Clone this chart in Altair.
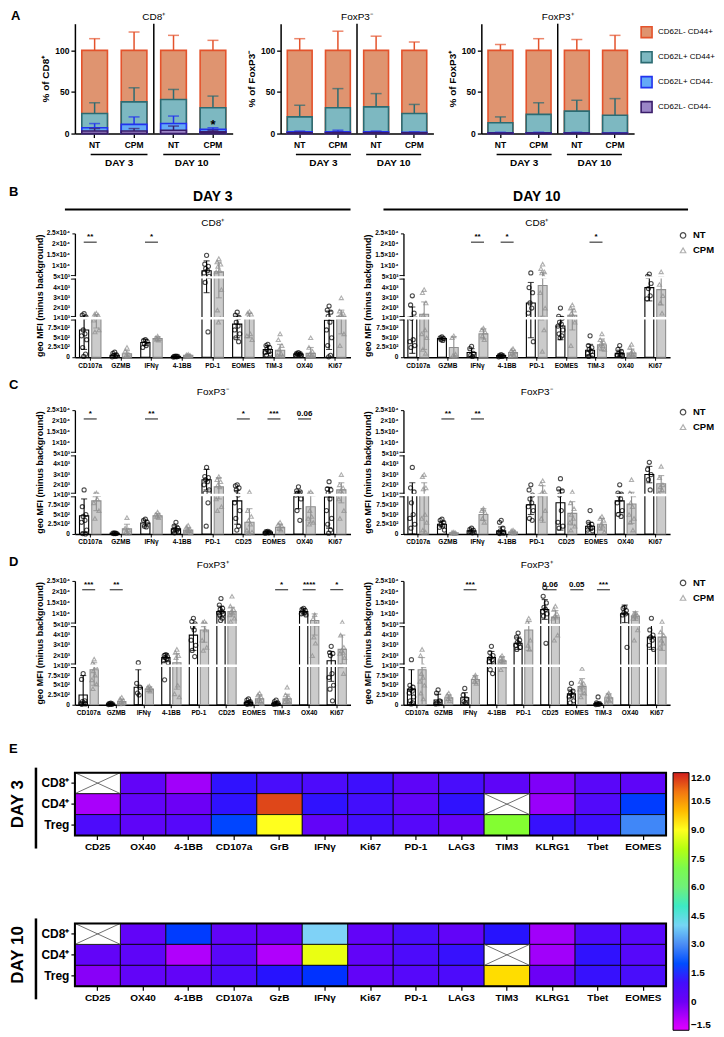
import altair as alt
import pandas as pd

FONT = "Liberation Sans"

# ---------------- Panel A : stacked phenotype bars ----------------
A_GROUPS = ["D3 NT", "D3 CPM", "D10 NT", "D10 CPM"]
A_SERIES = ["CD62L- CD44+", "CD62L+ CD44+", "CD62L+ CD44-", "CD62L- CD44-"]
A_FILL = ["#df9470", "#7db8c1", "#63a9f7", "#9b85c7"]
A_EDGE = ["#e4532c", "#2c6b72", "#2233ee", "#3a1d6a"]
A_YTICKS = [0, 25, 50, 75, 100, 125]

# cumulative top of each segment (rows follow A_SERIES, columns follow A_GROUPS)
A_CD8_TOP = [[100, 100, 100, 100], [24, 38, 41, 31], [7, 11, 12, 5], [3, 3, 4, 2]]
A_CD8_ERR = [[114, 122, 118, 112], [37, 55, 53, 45], [12, 20, 21, 7], [6, 6, 9, 4]]
A_FOXM_TOP = [[100, 100, 100, 100], [20, 31, 32, 24], [2, 2, 2, 1.5], [1, 1, 1, 0.8]]
A_FOXM_ERR = [[114, 123, 117, 110], [34, 54, 48, 35], [3, 4, 3, 2], [1.5, 1.5, 1.5, 1]]
A_FOXP_TOP = [[100, 100, 100, 100], [13, 23, 27, 22], [1, 1, 1, 0.5], [0.5, 0.5, 0.5, 0.3]]
A_FOXP_ERR = [[107, 114, 113, 118], [20, 37, 40, 42], [1.5, 1.5, 1.5, 1], [0.8, 0.8, 0.8, 0.5]]
A_CD8_STAR_GROUP = ["D10 CPM"]
A_CD8_STAR_Y = [15]
A_CD8_STAR_TEXT = ["*"]

# ---------------- Panels B-D : geo MFI ----------------
GROUPS = ["NT", "CPM"]
GROUP_FILL = ["#ffffff", "#cbcbcb"]
GROUP_EDGE = ["#000000", "#8f8f8f"]
Y_DOMAIN = [0, 1000, 5000, 25000]
Y_TICKS = [0, 250, 500, 750, 1000, 2000, 3000, 4000, 5000, 10000, 15000, 20000, 25000]
Y_TICK_LABELS = ["0", "2.5×10²", "5×10²", "7.5×10²", "1×10³", "2×10³", "3×10³", "4×10³",
                 "5×10³", "1×10⁴", "1.5×10⁴", "2×10⁴", "2.5×10⁴"]
Y_BREAK_AT = [1000, 5000]

MK_B = ["CD107a", "GZMB", "IFNγ", "4-1BB", "PD-1", "EOMES", "TIM-3", "OX40", "Ki67"]
MK_C = ["CD107a", "GZMB", "IFNγ", "4-1BB", "PD-1", "CD25", "EOMES", "OX40", "Ki67"]
MK_D = ["CD107a", "GZMB", "IFNγ", "4-1BB", "PD-1", "CD25", "EOMES", "TIM-3", "OX40", "Ki67"]

# B: CD8+ day 3
B3_NT_MEAN = [700, 50, 380, 20, 8000, 850, 200, 80, 950]
B3_NT_SD = [500, 50, 80, 10, 4500, 350, 100, 30, 750]
B3_NT_PTS = [[1450, 1300, 1150, 700, 600, 550, 450, 250, 80, 20], [130, 100, 60, 40, 20, 10],
             [450, 430, 400, 350, 300, 250], [30, 25, 20, 15, 10, 5],
             [15000, 11000, 10000, 9000, 8000, 7000, 5500, 4500, 650],
             [1600, 1300, 1100, 900, 800, 700, 600, 500, 400], [330, 300, 250, 200, 150, 120, 80, 50],
             [120, 100, 90, 80, 70, 60, 50], [2200, 1800, 1600, 1200, 900, 700, 500, 300, 50, 10]]
B3_CPM_MEAN = [1050, 90, 480, 50, 7500, 1000, 180, 100, 1200]
B3_CPM_SD = [300, 80, 50, 20, 4500, 500, 150, 150, 600]
B3_CPM_PTS = [[1500, 1400, 1300, 1200, 1100, 950, 700, 650], [250, 160, 80, 40, 20],
              [540, 500, 480, 460, 440], [70, 60, 50, 40, 30],
              [13500, 12000, 11000, 10000, 8000, 7500, 3800, 1800, 1000, 900],
              [1650, 1500, 1400, 1200, 600, 550, 450], [600, 450, 300, 200, 100, 50, 30],
              [500, 250, 150, 80, 50, 30, 20], [3000, 1700, 1500, 1300, 1200, 1100, 600, 300]]
B3_SIG = [("CD107a", "**"), ("IFNγ", "*")]

# B: CD8+ day 10
B10_NT_MEAN = [1100, 480, 120, 40, 2500, 800, 180, 100, 4000]
B10_NT_SD = [1000, 40, 100, 20, 2000, 350, 150, 80, 1300]
B10_NT_PTS = [[3200, 2300, 1500, 1000, 450, 400, 300, 250], [520, 500, 480, 450, 430],
              [280, 220, 100, 50, 20], [70, 50, 40, 30, 20, 10],
              [7000, 4000, 3500, 2500, 2000, 1500, 400],
              [2000, 1200, 1000, 900, 850, 800, 700, 600, 550, 500],
              [550, 300, 250, 200, 150, 100, 50, 20], [300, 200, 150, 100, 80, 50, 30],
              [6500, 5500, 4400, 3900, 3200, 2900]]
B10_CPM_MEAN = [1400, 250, 600, 120, 4200, 1300, 320, 110, 3800]
B10_CPM_SD = [1200, 280, 130, 60, 3000, 600, 150, 100, 1500]
B10_CPM_PTS = [[3800, 3500, 2500, 1300, 700, 600, 500, 200, 100], [550, 500, 80, 40, 20],
               [750, 700, 650, 550, 450], [220, 180, 140, 100, 60, 40],
               [11000, 9000, 7500, 7000, 5500, 3500, 2000, 1000, 700, 150],
               [2300, 2000, 1800, 1500, 1200, 1100, 900, 300], [600, 450, 400, 350, 300, 250, 200],
               [330, 250, 150, 100, 80, 50, 20], [7500, 4300, 3200, 2500, 1500]]
B10_SIG = [("IFNγ", "**"), ("4-1BB", "*"), ("TIM-3", "*")]

# C: FoxP3- day 3
C3_NT_MEAN = [470, 20, 280, 130, 2500, 850, 50, 1000, 950]
C3_NT_SD = [430, 10, 80, 80, 1000, 600, 20, 350, 800]
C3_NT_PTS = [[1500, 700, 500, 450, 350, 300, 100, 10, 0], [30, 20, 15, 10, 10],
             [380, 350, 300, 200, 180], [300, 200, 150, 120, 100, 80, 50, 30],
             [3700, 2800, 2700, 2500, 2300, 2000, 1500, 1200, 800, 200],
             [2000, 1900, 1700, 1500, 1000, 800, 600, 400, 200, 100], [70, 60, 50, 40, 30, 20],
             [1800, 1400, 1300, 1200, 1100, 1000, 900, 600, 350],
             [2300, 1600, 1500, 1200, 900, 600, 400, 250, 100, 20]]
C3_CPM_MEAN = [850, 130, 470, 100, 1800, 300, 170, 700, 1500]
C3_CPM_SD = [250, 120, 60, 60, 900, 350, 80, 400, 700]
C3_CPM_PTS = [[1200, 1100, 1050, 1000, 900, 800, 600, 400], [420, 150, 100, 60, 20],
              [560, 500, 480, 450, 420], [220, 180, 120, 100, 80, 50, 30],
              [2800, 2500, 2300, 2000, 1800, 900, 700, 600], [1300, 600, 450, 350, 250, 100, 50, 20],
              [300, 250, 200, 150, 100], [1300, 1200, 1100, 600, 450, 400, 300, 250],
              [3000, 2000, 1700, 1400, 1200, 900, 600, 400]]
C3_SIG = [("CD107a", "*"), ("IFNγ", "**"), ("CD25", "*"), ("EOMES", "***"), ("OX40", "0.06")]

# C: FoxP3- day 10
C10_NT_MEAN = [1000, 250, 80, 80, 750, 800, 200, 850, 3000]
C10_NT_SD = [1200, 70, 50, 100, 250, 700, 100, 300, 800]
C10_NT_PTS = [[3700, 1700, 1300, 800, 500, 400, 250, 150], [380, 350, 300, 250, 200, 170, 100],
              [150, 120, 100, 50, 30], [350, 300, 150, 80, 50, 30, 20, 10],
              [2000, 1500, 1000, 900, 800, 700, 600, 400, 350],
              [2600, 1600, 1400, 1000, 600, 300, 200, 150], [600, 300, 250, 200, 150, 100, 80],
              [2000, 1200, 1100, 1000, 900, 800, 600, 500, 450], [4200, 3500, 3000, 2500, 1500]]
C10_CPM_MEAN = [1000, 30, 500, 50, 1100, 530, 250, 770, 2100]
C10_CPM_SD = [1200, 15, 150, 30, 800, 300, 150, 500, 800]
C10_CPM_PTS = [[3000, 2800, 1700, 1600, 500, 400, 300, 100, 50], [50, 40, 30, 20, 10],
               [650, 600, 550, 400, 300], [100, 80, 60, 40, 20],
               [2400, 2100, 1300, 1200, 1100, 1000, 600, 400], [1300, 800, 650, 500, 400, 300, 200, 100],
               [450, 400, 350, 250, 200, 150, 50], [2500, 1200, 1000, 800, 700, 500, 400, 300, 100],
               [3800, 2700, 2000, 1800, 1500, 1200]]
C10_SIG = [("GZMB", "**"), ("IFNγ", "**")]

# D: FoxP3+ day 3
D3_NT_MEAN = [250, 20, 450, 1800, 4000, 11000, 60, 40, 11000, 1500]
D3_NT_SD = [500, 10, 450, 400, 1500, 2500, 40, 30, 1500, 900]
D3_NT_PTS = [[800, 650, 100, 80, 50, 30, 20, 10], [40, 30, 20, 15, 10, 5], [1300, 550, 450, 300, 250],
             [2100, 2000, 1900, 1800, 1700, 1500, 1300, 640],
             [8000, 6500, 5500, 4800, 4500, 3500, 3000, 2500, 1900],
             [17000, 14000, 12500, 12000, 11000, 10500, 10000, 9500, 8000, 7000],
             [150, 120, 80, 50, 40, 30, 20, 10], [120, 80, 50, 30, 20, 10],
             [12500, 12000, 11500, 11000, 10500, 10000, 9500],
             [2900, 2300, 2200, 2000, 800, 700, 500, 400, 100]]
D3_CPM_MEAN = [900, 80, 400, 1300, 4500, 11000, 150, 150, 7000, 2600]
D3_CPM_SD = [400, 60, 60, 900, 1200, 2000, 100, 120, 3000, 1400]
D3_CPM_PTS = [[1650, 1260, 980, 870, 760, 640, 530, 410], [190, 150, 100, 60, 30, 20],
              [480, 450, 420, 380, 350], [2600, 2300, 2000, 1800, 500, 280, 200],
              [6500, 6000, 5500, 5000, 4500, 3500, 2800, 2500],
              [18000, 13500, 12000, 11000, 10500, 9500, 8000, 6500], [300, 250, 200, 150, 100, 50, 30],
              [450, 250, 200, 150, 100, 80, 50], [9600, 7800, 5300, 3800, 3200, 2000],
              [6200, 4000, 2800, 2500, 2300, 2200, 1800, 1000, 800]]
D3_SIG = [("CD107a", "***"), ("GZMB", "**"), ("TIM-3", "*"), ("OX40", "****"), ("Ki67", "*")]

# D: FoxP3+ day 10
D10_NT_MEAN = [400, 120, 180, 1800, 3200, 12000, 280, 30, 10000, 3800]
D10_NT_SD = [500, 150, 130, 600, 600, 4500, 100, 30, 4000, 1200]
D10_NT_PTS = [[1600, 500, 450, 400, 350, 300, 200, 100, 50, 20], [380, 300, 100, 50, 30, 20],
              [420, 250, 150, 80, 50], [2900, 2300, 2000, 1800, 1600, 1400, 1200, 900, 800],
              [4200, 3800, 3500, 3300, 3200, 3000, 2800, 2600],
              [22000, 18000, 15000, 13000, 12000, 11000, 10000, 9000, 3200],
              [550, 400, 350, 300, 250, 200, 100, 50], [200, 50, 30, 20, 10, 5],
              [13000, 12500, 11500, 10500, 10000, 9500, 2800], [8000, 4500, 4000, 3800, 3500, 3000, 2600]]
D10_CPM_MEAN = [900, 180, 650, 1500, 4500, 8500, 470, 180, 9000, 3800]
D10_CPM_SD = [900, 70, 100, 400, 2000, 3000, 200, 100, 2000, 1300]
D10_CPM_PTS = [[2600, 2000, 1000, 800, 700, 600, 500, 300, 150], [300, 250, 200, 150, 100],
               [760, 700, 650, 600, 550], [2000, 1800, 1600, 1500, 1400, 1200, 1000, 900],
               [8000, 6200, 3500, 3000, 2600], [13500, 12000, 10000, 9000, 8500, 8000, 4000, 3500],
               [930, 600, 550, 500, 450, 400, 300, 200], [300, 250, 200, 150, 100, 50],
               [10500, 10000, 9500, 9000, 8500, 8000, 4500, 3500], [6500, 4300, 4000, 3500, 3200, 2800]]
D10_SIG = [("IFNγ", "***"), ("CD25", "0.06"), ("EOMES", "0.05"), ("TIM-3", "***")]

# ---------------- Panel E : heatmaps ----------------
HM_ROWS = ["CD8⁺", "CD4⁺", "Treg"]
HM_COLS_D3 = ["CD25", "OX40", "4-1BB", "CD107a", "GrB", "IFNγ", "Ki67", "PD-1", "LAG3", "TIM3", "KLRG1", "Tbet", "EOMES"]
HM_COLS_D10 = ["CD25", "OX40", "4-1BB", "CD107a", "GzB", "IFNγ", "Ki67", "PD-1", "LAG3", "TIM3", "KLRG1", "Tbet", "EOMES"]
HM_D3_CD8 = [None, 0.3, -0.6, 1.3, 0.9, 0.8, 1.1, 0.4, 0.9, 0.4, -0.2, 0.5, 0.4]
HM_D3_CD4 = [-0.7, 0.3, 0.0, 1.3, 11.6, 1.3, 1.0, 0.3, 1.3, None, -0.5, 0.7, 1.8]
HM_D3_TREG = [0.8, 0.4, 0.6, 1.9, 9.0, 0.3, 1.0, 0.6, 0.2, 7.4, 1.2, 1.1, 2.9]
HM_D10_CD8 = [None, 0.3, 1.8, 0.3, 0.0, 3.9, 0.3, 0.9, 0.3, 1.4, -0.6, 0.8, 0.6]
HM_D10_CD4 = [0.3, 0.4, -0.8, 0.5, -0.8, 8.7, 0.3, 0.8, 1.2, None, -0.6, 1.3, 0.6]
HM_D10_TREG = [-0.3, 0.3, 0.3, 0.8, 1.4, 1.7, 0.3, 0.6, 0.8, 9.5, 0.0, 1.2, 0.9]
CB_STOPS = [-1.5, 0, 1.5, 3, 3.9, 4.5, 6, 7.5, 9, 10.5, 12]
CB_COLORS = ["#e100ff", "#6c00f6", "#1c14ff", "#4a8cf5", "#7fd2f7", "#55e3dc", "#6ff07a",
             "#86ff27", "#ffff1e", "#ff9a10", "#d01e1e"]
CB_TICKS = [-1.5, 0, 1.5, 3, 4.5, 6, 7.5, 9, 10.5, 12]

# ---------------- layout constants (styling only) ----------------
A_H = 110
A_YMAX = 132
MFI_H = 124
W_L = 276
W_R = 267
HEAT_W = 592
HEAT_H = 63
SUB_CENTRE = {"NT": 0.2143, "CPM": 0.7857}
JIT = [0.0, -0.7, 0.7, -0.35, 0.35, -1.0, 1.0, -0.55, 0.55, -0.15]
JIT_W = 0.12

ONE = pd.DataFrame({"k": [0]})


def label(text, x, y, size, weight="bold", angle=0, align="center"):
    return alt.Chart(ONE).mark_text(text=text, fontSize=size, fontWeight=weight, angle=angle,
                                    align=align, baseline="middle", color="black").encode(
        x=alt.value(x), y=alt.value(y))


def hline(x1, x2, y, w=1.5):
    return alt.Chart(ONE).mark_rule(color="black", strokeWidth=w).encode(
        x=alt.value(x1), x2=alt.value(x2), y=alt.value(y))


def vline(x, y1, y2, w=1.5):
    return alt.Chart(ONE).mark_rule(color="black", strokeWidth=w).encode(
        x=alt.value(x), y=alt.value(y1), y2=alt.value(y2))


def symbol(shape, colour, x, y):
    return alt.Chart(ONE).mark_point(shape=shape, filled=False, size=30, strokeWidth=1.2,
                                     color=colour).encode(x=alt.value(x), y=alt.value(y))


def a_chart(title, ytitle, tops, errs, width, legend, extras, star=None):
    h = A_H
    rows = []
    for si, s in enumerate(A_SERIES):
        for gi, g in enumerate(A_GROUPS):
            rows.append({"series": s, "group": g, "top": tops[si][gi], "err": errs[si][gi]})
    df = pd.DataFrame(rows)
    x = alt.X("group:N", sort=A_GROUPS,
              scale=alt.Scale(domain=A_GROUPS, paddingInner=0.35, paddingOuter=0.175),
              axis=alt.Axis(title=None, labelAngle=0, labelExpr="split(datum.label, ' ')[1]",
                            labelFontSize=8.5, labelFontWeight="bold", tickSize=4, tickWidth=1.3,
                            domainWidth=1.5, labelPadding=3))
    y = alt.Y("top:Q", stack=None, scale=alt.Scale(domain=[0, A_YMAX], nice=False),
              axis=alt.Axis(values=A_YTICKS, title=ytitle, titleFontSize=10, titleFontWeight="bold",
                            labelFontSize=8.5, labelFontWeight="bold", tickSize=4, tickWidth=1.3,
                            domainWidth=1.5, grid=False, titlePadding=4, labelPadding=2))
    bars = alt.Chart(df).mark_bar(strokeWidth=1.6).encode(
        x=x, y=y,
        fill=alt.Fill("series:N", scale=alt.Scale(domain=A_SERIES, range=A_FILL), legend=legend),
        stroke=alt.Stroke("series:N", scale=alt.Scale(domain=A_SERIES, range=A_EDGE), legend=legend))
    ecol = alt.Color("series:N", scale=alt.Scale(domain=A_SERIES, range=A_EDGE), legend=None)
    err = alt.Chart(df).mark_rule(strokeWidth=1.5).encode(
        x=alt.X("group:N", sort=A_GROUPS), y="top:Q", y2="err:Q", color=ecol)
    cap = alt.Chart(df).mark_tick(thickness=1.5, size=11).encode(
        x=alt.X("group:N", sort=A_GROUPS), y="err:Q", color=ecol)
    layers = [bars, err, cap,
              vline(width / 2, 0, h, 1.5),
              hline(width * 0.1, width * 0.46, h + 21, 1.5),
              hline(width * 0.56, width * 0.92, h + 21, 1.5),
              label("DAY 3", width * 0.28, h + 30, 10),
              label("DAY 10", width * 0.74, h + 30, 10),
              label(title, width / 2, -7, 10, weight="normal")]
    if star is not None:
        sdf = pd.DataFrame({"group": star[0], "y": star[1], "t": star[2]})
        layers.append(alt.Chart(sdf).mark_text(fontSize=13, fontWeight="bold", dy=4).encode(
            x=alt.X("group:N", sort=A_GROUPS), y="y:Q", text="t:N"))
    layers += extras
    return alt.layer(*layers).properties(width=width, height=h)


def mfi_chart(markers, nt_mean, nt_sd, nt_pts, cpm_mean, cpm_sd, cpm_pts, sig,
              width, title, title_y, show_legend, extras):
    h = MFI_H
    bar_rows, pt_rows = [], []
    for i, m in enumerate(markers):
        for g, mean, sd, pts in (("NT", nt_mean[i], nt_sd[i], nt_pts[i]),
                                 ("CPM", cpm_mean[i], cpm_sd[i], cpm_pts[i])):
            bar_rows.append({"marker": m, "group": g, "mean": mean,
                             "lo": max(mean - sd, 0), "hi": mean + sd})
            for j, v in enumerate(pts):
                pt_rows.append({"marker": m, "group": g, "value": v,
                                "off": SUB_CENTRE[g] + JIT[j % len(JIT)] * JIT_W})
    bar_df = pd.DataFrame(bar_rows)
    pt_df = pd.DataFrame(pt_rows)
    sig_df = pd.DataFrame({"marker": [s[0] for s in sig], "label": [s[1] for s in sig]})
    brk_df = pd.DataFrame({"v": Y_BREAK_AT})
    tick_df = pd.DataFrame({"v": Y_TICKS, "t": Y_TICK_LABELS})

    xs = alt.X("marker:N", sort=markers,
               scale=alt.Scale(domain=markers, paddingInner=0.3, paddingOuter=0.15),
               axis=alt.Axis(title=None, labelAngle=0, labelFontSize=6.5, labelFontWeight="bold",
                             tickSize=3, tickWidth=1, domainWidth=1.3, labelPadding=2))
    xp = alt.X("marker:N", sort=markers)
    ys = alt.Scale(domain=Y_DOMAIN, range=[h, h * (1 - 39 / 124), h * (1 - 80 / 124), 0],
                   nice=False, zero=False, clamp=True)
    yaxis = alt.Axis(values=Y_TICKS, labels=False, title="geo MFI (minus background)",
                     titleFontSize=9, titleFontWeight="bold",
                     tickSize=3, tickWidth=1, domainWidth=1.3, grid=False, titlePadding=27)
    offn = alt.XOffset("group:N", sort=GROUPS,
                       scale=alt.Scale(domain=GROUPS, paddingInner=0.25, paddingOuter=0))
    stroke = alt.Stroke("group:N", scale=alt.Scale(domain=GROUPS, range=GROUP_EDGE), legend=None)
    col = alt.Color("group:N", scale=alt.Scale(domain=GROUPS, range=GROUP_EDGE), legend=None)
    shp = alt.Shape("group:N", scale=alt.Scale(domain=GROUPS, range=["circle", "triangle-up"]), legend=None)

    bars = alt.Chart(bar_df).mark_bar(strokeWidth=1.1).encode(
        x=xs, xOffset=offn, y=alt.Y("mean:Q", scale=ys, axis=yaxis),
        fill=alt.Fill("group:N", scale=alt.Scale(domain=GROUPS, range=GROUP_FILL), legend=None),
        stroke=stroke)
    err = alt.Chart(bar_df).mark_rule(strokeWidth=1.1).encode(
        x=xp, xOffset=offn, y="lo:Q", y2="hi:Q", stroke=stroke)
    cap_hi = alt.Chart(bar_df).mark_tick(filled=False, thickness=0.01, strokeWidth=1.1, size=5).encode(
        x=xp, xOffset=offn, y="hi:Q", stroke=stroke)
    cap_lo = alt.Chart(bar_df).mark_tick(filled=False, thickness=0.01, strokeWidth=1.1, size=5).encode(
        x=xp, xOffset=offn, y="lo:Q", stroke=stroke)
    pts = alt.Chart(pt_df).mark_point(filled=False, size=17, strokeWidth=1.1).encode(
        x=xp, xOffset=alt.XOffset("off:Q", scale=alt.Scale(domain=[0, 1], zero=False, nice=False)),
        y="value:Q", shape=shp, color=col)
    brk = alt.Chart(brk_df).mark_rule(color="white", strokeWidth=2.4).encode(
        y="v:Q", x=alt.value(-3), x2=alt.value(width))
    brk_a = alt.Chart(brk_df).mark_rule(color="black", strokeWidth=0.9, yOffset=-1.8).encode(
        y="v:Q", x=alt.value(-4), x2=alt.value(1))
    brk_b = alt.Chart(brk_df).mark_rule(color="black", strokeWidth=0.9, yOffset=1.8).encode(
        y="v:Q", x=alt.value(-4), x2=alt.value(1))
    ticklab = alt.Chart(tick_df).mark_text(align="right", baseline="middle", fontSize=6.5,
                                           fontWeight="bold", dx=-5, color="black").encode(
        x=alt.value(0), y="v:Q", text="t:N")
    sig_line = alt.Chart(sig_df).mark_tick(size=13, thickness=1.3, color="black").encode(
        x=xp, y=alt.datum(21000))
    sig_text = alt.Chart(sig_df).mark_text(fontSize=8, fontWeight="bold", baseline="bottom", dy=-1,
                                           color="black").encode(
        x=xp, y=alt.datum(21000), text="label:N")
    layers = [bars, err, cap_hi, cap_lo, pts, brk, brk_a, brk_b, ticklab, sig_line, sig_text,
              label(title, width / 2, title_y, 10, weight="normal")] + extras
    if show_legend:
        layers += [symbol("circle", GROUP_EDGE[0], width + 13, 2),
                   symbol("triangle-up", GROUP_EDGE[1], width + 13, 17),
                   label("NT", width + 23, 2, 9.5, align="left"),
                   label("CPM", width + 23, 17, 9.5, align="left")]
    return alt.layer(*layers).resolve_scale(xOffset="independent").properties(width=width, height=h)


def heat_chart(cols, vals, day_text, extras):
    w, h = HEAT_W, HEAT_H
    rows = []
    for ri, r in enumerate(HM_ROWS):
        for ci, c in enumerate(cols):
            rows.append({"row": r, "col": c, "v": vals[ri][ci]})
    df = pd.DataFrame(rows)
    ok = df[df["v"].notna()].copy()
    miss = df[df["v"].isna()][["row", "col"]].copy()
    x = alt.X("col:N", sort=cols, scale=alt.Scale(domain=cols, paddingInner=0, paddingOuter=0),
              axis=alt.Axis(title=None, labelAngle=0, labelFontSize=10, labelFontWeight="bold",
                            tickSize=4, tickWidth=1.2, domain=False, labelPadding=2))
    y = alt.Y("row:N", sort=HM_ROWS, scale=alt.Scale(domain=HM_ROWS, paddingInner=0, paddingOuter=0),
              axis=alt.Axis(title=None, labelFontSize=12, labelFontWeight="bold", tickSize=4,
                            tickWidth=1.2, domain=False, labelPadding=2))
    legend = alt.Legend(title=None, orient="right", offset=5, gradientLength=258, gradientThickness=16,
                        values=CB_TICKS, labelExpr="datum.value === 0 ? '0' : format(datum.value, '.1f')",
                        labelFontSize=10, labelFontWeight="bold", labelOverlap=False,
                        gradientStrokeColor="black", gradientStrokeWidth=1, direction="vertical")
    cells = alt.Chart(ok).mark_rect(stroke="black", strokeWidth=0.8).encode(
        x=x, y=y,
        color=alt.Color("v:Q", scale=alt.Scale(domain=CB_STOPS, range=CB_COLORS, nice=False, zero=False),
                        legend=legend))
    blanks = alt.Chart(miss).mark_rect(fill="white", stroke="black", strokeWidth=0.8).encode(
        x=alt.X("col:N", sort=cols), y=alt.Y("row:N", sort=HM_ROWS))
    d1 = alt.Chart(miss).mark_rule(color="#4d4d4d", strokeWidth=0.8).encode(
        x=alt.X("col:N", sort=cols, bandPosition=0), x2=alt.X2("col", bandPosition=1),
        y=alt.Y("row:N", sort=HM_ROWS, bandPosition=0), y2=alt.Y2("row", bandPosition=1))
    d2 = alt.Chart(miss).mark_rule(color="#4d4d4d", strokeWidth=0.8).encode(
        x=alt.X("col:N", sort=cols, bandPosition=0), x2=alt.X2("col", bandPosition=1),
        y=alt.Y("row:N", sort=HM_ROWS, bandPosition=1), y2=alt.Y2("row", bandPosition=0))
    frame = alt.Chart(ONE).mark_rect(fillOpacity=0, stroke="black", strokeWidth=2).encode(
        x=alt.value(0), x2=alt.value(w), y=alt.value(0), y2=alt.value(h))
    layers = [cells, blanks, d1, d2, frame,
              label(day_text, -57, h / 2, 17, angle=270),
              vline(-39, -5, h + 13, 2.5)] + extras
    return alt.layer(*layers).properties(width=w, height=h)


RES = dict(color="independent", fill="independent", stroke="independent",
           shape="independent", xOffset="independent")

# ---- row A
a_leg = alt.Legend(title=None, orient="none", legendX=153 + 6, legendY=2, symbolType="square",
                   symbolSize=120, symbolStrokeWidth=1.6, labelFontSize=8, rowPadding=6, labelOffset=5)
a1 = a_chart("CD8⁺", "% of CD8⁺", A_CD8_TOP, A_CD8_ERR, 158, None,
             [label("A", -64, -8, 13, align="left")],
             star=(A_CD8_STAR_GROUP, A_CD8_STAR_Y, A_CD8_STAR_TEXT))
a2 = a_chart("FoxP3⁻", "% of FoxP3⁻", A_FOXM_TOP, A_FOXM_ERR, 153, None, [])
a3 = a_chart("FoxP3⁺", "% of FoxP3⁺", A_FOXP_TOP, A_FOXP_ERR, 153, a_leg, [])
row_a = alt.hconcat(a1, a2, a3, spacing=12).resolve_scale(**RES)

# ---- row B
b1 = mfi_chart(MK_B, B3_NT_MEAN, B3_NT_SD, B3_NT_PTS, B3_CPM_MEAN, B3_CPM_SD, B3_CPM_PTS, B3_SIG,
               W_L, "CD8⁺", -10, False,
               [label("B", -66, -41, 13, align="left"), label("DAY 3", W_L / 2, -36, 14),
                hline(-10, W_L, -24, 2)])
b2 = mfi_chart(MK_B, B10_NT_MEAN, B10_NT_SD, B10_NT_PTS, B10_CPM_MEAN, B10_CPM_SD, B10_CPM_PTS, B10_SIG,
               W_R, "CD8⁺", -10, True,
               [label("DAY 10", W_R / 2, -36, 14), hline(-20, W_R + 18, -24, 2)])
row_b = alt.hconcat(b1, b2, spacing=10).resolve_scale(**RES)

# ---- row C
c1 = mfi_chart(MK_C, C3_NT_MEAN, C3_NT_SD, C3_NT_PTS, C3_CPM_MEAN, C3_CPM_SD, C3_CPM_PTS, C3_SIG,
               W_L, "FoxP3⁻", -18, False, [label("C", -66, -25, 13, align="left")])
c2 = mfi_chart(MK_C, C10_NT_MEAN, C10_NT_SD, C10_NT_PTS, C10_CPM_MEAN, C10_CPM_SD, C10_CPM_PTS, C10_SIG,
               W_R, "FoxP3⁻", -18, True, [])
row_c = alt.hconcat(c1, c2, spacing=10).resolve_scale(**RES)

# ---- row D
d1 = mfi_chart(MK_D, D3_NT_MEAN, D3_NT_SD, D3_NT_PTS, D3_CPM_MEAN, D3_CPM_SD, D3_CPM_PTS, D3_SIG,
               W_L, "FoxP3⁺", -16, False,
               [label("D", -66, -19, 13, align="left"), label("E", -66, 168, 13, align="left")])
d2 = mfi_chart(MK_D, D10_NT_MEAN, D10_NT_SD, D10_NT_PTS, D10_CPM_MEAN, D10_CPM_SD, D10_CPM_PTS, D10_SIG,
               W_R, "FoxP3⁺", -16, True, [])
row_d = alt.hconcat(d1, d2, spacing=10).resolve_scale(**RES)

# ---- row E
h3 = heat_chart(HM_COLS_D3, [HM_D3_CD8, HM_D3_CD4, HM_D3_TREG], "DAY 3", [])
h10 = heat_chart(HM_COLS_D10, [HM_D10_CD8, HM_D10_CD4, HM_D10_TREG], "DAY 10", [])
row_e = alt.vconcat(h3, h10, spacing=64)

inner = alt.vconcat(row_b, row_c, row_d, row_e, spacing=9).resolve_scale(**RES)
chart = alt.vconcat(row_a, inner, spacing=16).resolve_scale(**RES).properties(
    padding={"left": 0, "top": 0, "right": 0, "bottom": 0}
).configure(font=FONT).configure_view(stroke="transparent").configure_axis(
    labelFont=FONT, titleFont=FONT, domainColor="black", tickColor="black",
    labelColor="black", titleColor="black", grid=False
).configure_legend(labelFont=FONT, labelColor="black").configure_title(font=FONT, color="black")

chart.save("out.html", embed_options={"renderer": "svg", "actions": False})
